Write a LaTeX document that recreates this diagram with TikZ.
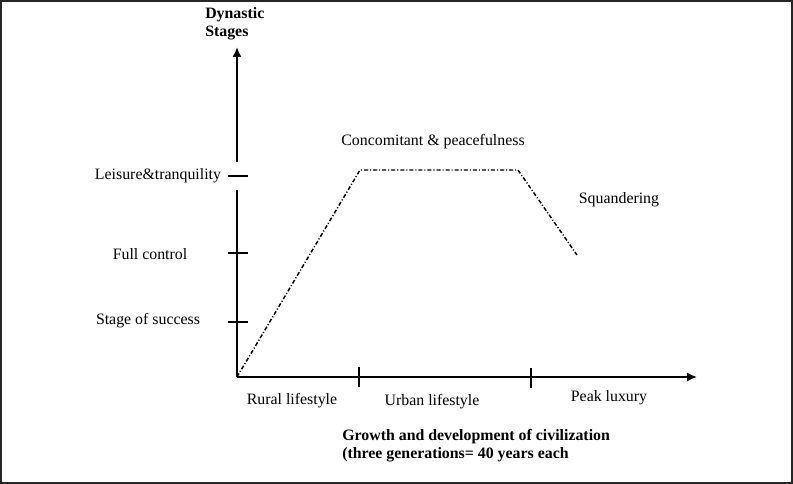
\documentclass[tikz,border=0pt]{standalone}
\usepackage{fontspec}
\setmainfont{Liberation Serif}
\usetikzlibrary{arrows.meta}
\tikzstyle{lbl}=[inner sep=0pt,font=\fontsize{11.9}{13}\selectfont]
\tikzstyle{boldlbl}=[inner sep=0pt,font=\fontsize{11.9}{13}\selectfont\bfseries]
\tikzstyle{axis}=[line width=1.4pt,-{Latex[length=7.5pt,width=7pt]}]
\tikzstyle{tick}=[line width=1.2pt]
\tikzstyle{trend}=[line width=1.1pt,
                   dash pattern=on 3pt off 1.5pt on 0.8pt off 1.5pt]

\begin{document}
\begin{tikzpicture}[x=0.75pt,y=-0.75pt]
    \useasboundingbox (0,0) rectangle (793,484);
    \draw[line width=1.5pt,draw=black!85] (1,1) rectangle (792,483);
    \newcommand{\tksz}{10}
    % axes
    \coordinate (o) at (237,377);
    \coordinate (ytop) at (237,47);
    \coordinate (ygap1) at (237,162);
    \coordinate (ygap2) at (237,190);
    \coordinate (xend) at (697,377);
    \draw[line width=1.4pt] (o) -- (ygap2);
    \draw[axis,line width=1.8pt] (ygap1) -- (ytop);
    \draw[axis] (o) -- (xend);
    % ticks
    \coordinate (yt1) at (238,176);
    \coordinate (yt2) at (238,253);
    \coordinate (yt3) at (238,322);
    \coordinate (xt1) at (359,377);
    \coordinate (xt2) at (531,378);
    \foreach \p in {yt1,yt2,yt3}
      \draw[tick] ([xshift=-\tksz*0.75pt]\p) -- ([xshift=\tksz*0.75pt]\p);
    \foreach \p in {xt1,xt2}
      \draw[tick] ([yshift=-\tksz*0.75pt]\p) -- ([yshift=\tksz*0.75pt]\p);
    % trend
    \coordinate (t1) at (360,170);
    \coordinate (t2) at (518,170);
    \coordinate (t3) at (577,255);
    \draw[trend] (o) -- (t1) -- (t2) -- (t3);
    % labels
    \node (dyn) at (205,15) [boldlbl,anchor=west]{Dynastic};
    \node (stg) at (205,33) [boldlbl,anchor=west]{Stages};
    \node (leis) at (158,176) [lbl]{Leisure\&tranquility};
    \node (full) at (150,254) [lbl]{Full control};
    \node (succ) at (148,321) [lbl]{Stage of success};
    \node (conc) at (433,142) [lbl]{Concomitant \& peacefulness};
    \node (squa) at (619,200) [lbl]{Squandering};
    \node (rur) at (292,401) [lbl]{Rural lifestyle};
    \node (urb) at (432,402) [lbl]{Urban lifestyle};
    \node (peak) at (609,398) [lbl]{Peak luxury};
    \node (grow) at (342,437) [boldlbl,anchor=west]{Growth and development of civilization};
    \node (gen) at (342,455) [boldlbl,anchor=west]{(three generations= 40 years each};
\end{tikzpicture}
\end{document}
